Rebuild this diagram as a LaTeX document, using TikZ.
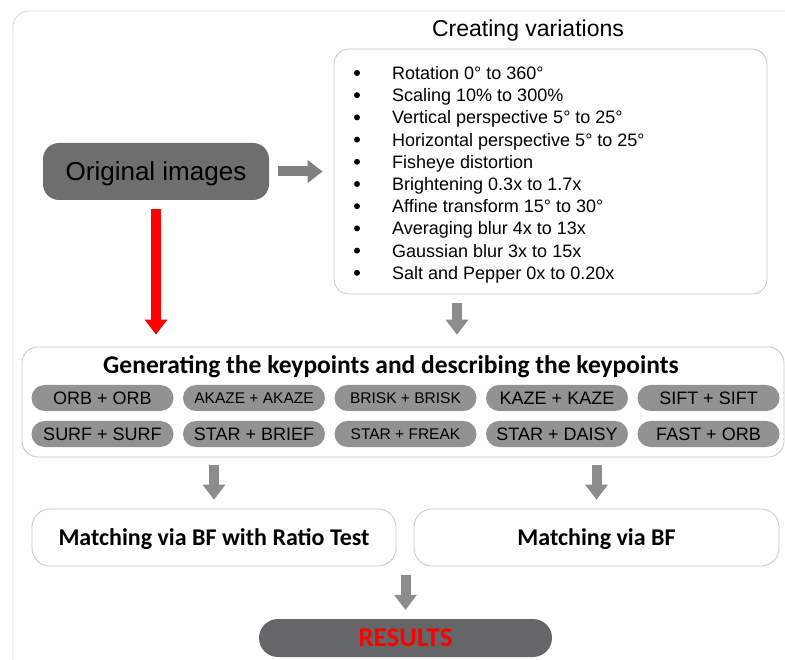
\documentclass[tikz,border=0pt]{standalone}
\usepackage{fontspec}
\setmainfont{Liberation Sans}
\newfontfamily\calibfont{Carlito}
\usetikzlibrary{arrows.meta}

\definecolor{frameline}{HTML}{D9D9D9}
\definecolor{boxline}{HTML}{C8C8C8}
\definecolor{darkbox}{HTML}{6E6E6E}
\definecolor{pillgray}{HTML}{929292}
\definecolor{resgray}{HTML}{656668}
\definecolor{arrowgray}{HTML}{8C8C8C}

\tikzset{
  box/.style={draw=boxline,line width=0.8pt,fill=white,rounded corners=16pt,inner sep=0pt},
  pill/.style={fill=pillgray,rounded corners=13pt,minimum width=142pt,minimum height=26pt,
    inner sep=0pt,font=\fontsize{18}{18}\selectfont,text height=12.9pt,text depth=0pt},
  smallpill/.style={font=\fontsize{15.5}{15.5}\selectfont,text height=11.1pt},
  boldtext/.style={font=\calibfont\bfseries\fontsize{24}{24}\selectfont,text height=15.5pt,text depth=0pt},
  flow/.style={draw=arrowgray,line width=10pt,-{Triangle[width=23pt,length=15pt,line width=0pt]}}
}

\begin{document}
\begin{tikzpicture}[x=1pt,y=-1pt]
\useasboundingbox (0,0) rectangle (785,660);

\begin{scope}
\clip (0,0) rectangle (785,660);
\draw[frameline,line width=0.8pt,rounded corners=16pt] (13,11) rectangle (800,690);
\end{scope}

\node[fill=darkbox,rounded corners=16pt,minimum width=226pt,minimum height=57pt,inner sep=0pt,
  font=\fontsize{26}{26}\selectfont,text height=18.6pt,text depth=0pt] (orig) at (156,171.5) {Original images};

\node[font=\fontsize{23}{23}\selectfont,anchor=base] (vartitle) at (528,36.5) {Creating variations};
\node[box,rounded corners=15pt,minimum width=433pt,minimum height=245pt] (vars) at (550.5,171.5) {};

\foreach \t [count=\i] in {Rotation 0° to 360°, Scaling 10\% to 300\%,
  Vertical perspective 5° to 25°, Horizontal perspective 5° to 25°, Fisheye distortion,
  Brightening 0.3x to 1.7x, Affine transform 15° to 30°, Averaging blur 4x to 13x,
  Gaussian blur 3x to 15x, Salt and Pepper 0x to 0.20x} {
  \fill (357,{73+22.2*(\i-1)}) circle (3pt);
  \node[anchor=base west,inner sep=0pt,font=\fontsize{18}{18}\selectfont] (var-\i) at (392,{79.5+22.2*(\i-1)}) {\t};
}

\node[box,minimum width=762pt,minimum height=110pt] (kp) at (403,402) {};
\node[boldtext,font=\calibfont\bfseries\fontsize{25.5}{25.5}\selectfont,text height=16.4pt] (kptitle) at (391,365) {Generating the keypoints and describing the keypoints};

\foreach \t/\c/\r/\s in {ORB + ORB/1/1/pill, AKAZE + AKAZE/2/1/smallpill, BRISK + BRISK/3/1/smallpill,
  KAZE + KAZE/4/1/pill, SIFT + SIFT/5/1/pill, SURF + SURF/1/2/pill, STAR + BRIEF/2/2/pill,
  STAR + FREAK/3/2/smallpill, STAR + DAISY/4/2/pill, FAST + ORB/5/2/pill} {
  \node[pill,\s] (pair-\c-\r) at ({102.5+151.5*(\c-1)},{398+36*(\r-1)}) {\t};
}

\node[box,rounded corners=18pt,minimum width=364pt,minimum height=57pt,boldtext] (ratio) at (214,537.5) {Matching via BF with Ratio Test};
\node[box,rounded corners=18pt,minimum width=365pt,minimum height=57pt,boldtext] (bf) at (596.5,537.5) {Matching via BF};

\node[fill=resgray,rounded corners=19pt,minimum width=293pt,minimum height=38pt,inner sep=0pt,
  boldtext,font=\calibfont\bfseries\fontsize{27}{27}\selectfont,text height=17.4pt,text=red] (res) at (405.5,638) {RESULTS};

\coordinate (vdown) at (457,0);

\draw[flow,draw=gray,shorten <=9pt,shorten >=11pt] (orig.east) -- (vars.west);
\draw[flow,draw=red,shorten <=9pt,shorten >=12pt] (orig.south) -- (orig.south |- kp.north);
\draw[flow,shorten <=9pt,shorten >=12pt] (vars.south -| vdown) -- (kp.north -| vdown);
\draw[flow,shorten <=8pt,shorten >=9pt] (kp.south -| ratio) -- (ratio.north);
\draw[flow,shorten <=8pt,shorten >=9pt] (kp.south -| bf) -- (bf.north);
\draw[flow,shorten <=9pt,shorten >=9pt] (ratio.south -| res) -- (res.north);

\end{tikzpicture}
\end{document}
